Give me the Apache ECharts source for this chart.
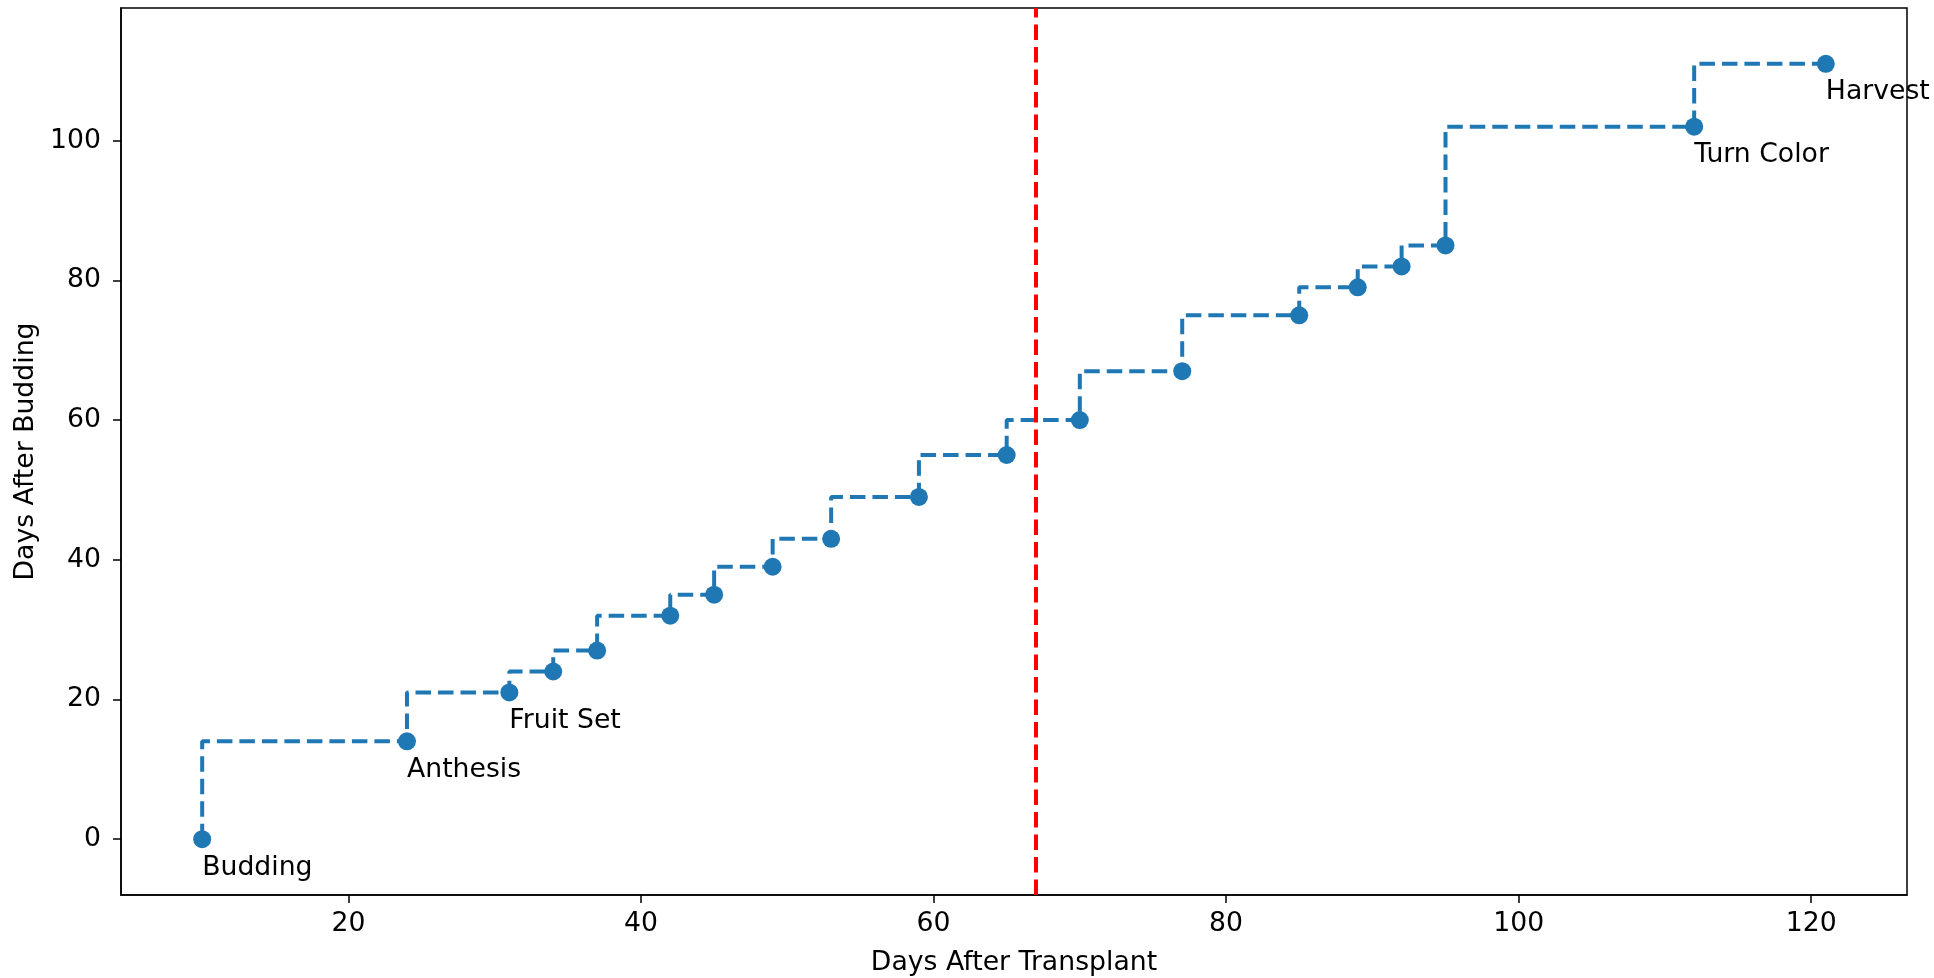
<!DOCTYPE html>
<html>
<head>
<meta charset="utf-8">
<script src="https://cdn.jsdelivr.net/npm/echarts@6/dist/echarts.min.js"></script>
<style>
  html, body { margin: 0; padding: 0; background: #fff; }
  #chart { width: 1934px; height: 978px; }
</style>
</head>
<body>
<div id="chart"></div>
<script>
// Data
const daysAfterTransplant = [10, 24, 31, 34, 37, 42, 45, 49, 53, 59, 65, 70, 77, 85, 89, 92, 95, 112, 121];
const daysAfterBudding   = [0, 14, 21, 24, 27, 32, 35, 39, 43, 49, 55, 60, 67, 75, 79, 82, 85, 102, 111];
const stageLabels        = ['Budding', 'Anthesis', 'Fruit Set', '', '', '', '', '', '', '', '', '', '', '', '', '', '', 'Turn Color', 'Harvest'];
const markerDay = 67;
const xTicks = [20, 40, 60, 80, 100, 120];
const yTicks = [0, 20, 40, 60, 80, 100];
const xRange = [4.45, 126.55];
const yRange = [-8, 119];

const FONT = 'DejaVu Sans';
const FS = 26.7;
const BLUE = '#1f77b4';

const seriesData = daysAfterTransplant.map((x, i) => {
  const item = { value: [x, daysAfterBudding[i]] };
  if (stageLabels[i]) {
    item.label = { show: true, formatter: stageLabels[i] };
  }
  return item;
});

const chart = echarts.init(document.getElementById('chart'), null, { renderer: 'canvas' });
chart.setOption({
  animation: false,
  backgroundColor: '#fff',
  grid: {
    left: 121, right: 27, top: 8, bottom: 83,
    outerBoundsMode: 'none',
    containLabel: false,
    show: true, borderColor: '#000', borderWidth: 1.5, backgroundColor: 'transparent'
  },
  xAxis: {
    type: 'value',
    min: xRange[0], max: xRange[1],
    name: 'Days After Transplant',
    nameLocation: 'middle',
    nameGap: 55,
    nameTextStyle: { fontFamily: FONT, fontSize: FS, color: '#000' },
    axisLine: { show: true, onZero: false, lineStyle: { color: '#000', width: 1.5 } },
    axisTick: { show: true, length: 8, lineStyle: { color: '#000', width: 1.5 }, customValues: xTicks },
    axisLabel: { fontFamily: FONT, fontSize: FS, color: '#000', margin: 16, customValues: xTicks },
    splitLine: { show: false }
  },
  yAxis: {
    type: 'value',
    min: yRange[0], max: yRange[1],
    name: 'Days After Budding',
    nameLocation: 'middle',
    nameGap: 75,
    nameTextStyle: { fontFamily: FONT, fontSize: FS, color: '#000' },
    axisLine: { show: true, onZero: false, lineStyle: { color: '#000', width: 1.5 } },
    axisTick: { show: true, length: 8, lineStyle: { color: '#000', width: 1.5 }, customValues: yTicks },
    axisLabel: { fontFamily: FONT, fontSize: FS, color: '#000', margin: 20, customValues: yTicks },
    splitLine: { show: false }
  },
  series: [{
    type: 'line',
    step: 'start',
    data: seriesData,
    symbol: 'circle',
    symbolSize: 18,
    showAllSymbol: true,
    itemStyle: { color: BLUE },
    lineStyle: { color: BLUE, width: 4, type: [15.5, 7] },
    label: {
      show: false,
      position: 'bottom',
      align: 'left',
      distance: 6,
      fontFamily: FONT,
      fontSize: FS,
      color: '#000'
    },
    emphasis: { disabled: true },
    markLine: {
      silent: true,
      symbol: 'none',
      label: { show: false },
      lineStyle: { color: '#ff0000', width: 4, type: [15.5, 7] },
      data: [{ xAxis: markerDay }]
    },
    z: 2
  }]
});
</script>
</body>
</html>
